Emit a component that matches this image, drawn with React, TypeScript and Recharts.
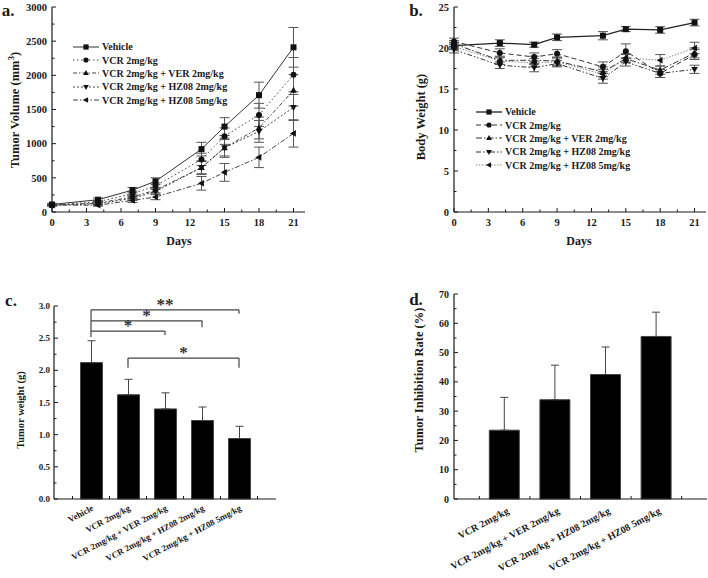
import React from 'react';
import { LineChart, Line, BarChart, Bar, XAxis, YAxis, ErrorBar, Legend, ReferenceLine, ReferenceDot } from 'recharts';

const FONT = "'Liberation Serif', 'Times New Roman', Times, serif";
const INK = '#1a1a1a';

// ---------- data ----------
const days = [0, 4, 7, 9, 13, 15, 18, 21];
const seriesLabels = [
  'Vehicle',
  'VCR 2mg/kg',
  'VCR 2mg/kg + VER 2mg/kg',
  'VCR 2mg/kg + HZ08 2mg/kg',
  'VCR 2mg/kg + HZ08 5mg/kg',
];

// panel a: tumor volume (mm3)
const volVehicle = [110, 180, 320, 450, 920, 1250, 1710, 2410];
const volVCR = [100, 150, 270, 380, 770, 1110, 1420, 2010];
const volVER = [100, 130, 220, 320, 650, 940, 1230, 1780];
const volHZ2 = [100, 120, 200, 300, 650, 940, 1180, 1530];
const volHZ5 = [100, 100, 170, 220, 420, 580, 800, 1150];
const volVehicleErr = [15, 25, 40, 50, 100, 130, 190, 290];
const volVCRErr = [10, 20, 35, 45, 90, 120, 170, 250];
const volVERErr = [10, 20, 30, 40, 90, 120, 160, 230];
const volHZ2Err = [10, 20, 30, 40, 100, 140, 160, 190];
const volHZ5Err = [10, 15, 30, 40, 100, 130, 150, 200];

// panel b: body weight (g)
const bwVehicle = [20.3, 20.6, 20.4, 21.3, 21.5, 22.3, 22.2, 23.1];
const bwVCR = [20.8, 19.4, 18.9, 19.3, 17.7, 19.6, 16.9, 19.2];
const bwVER = [20.5, 18.5, 18.5, 18.4, 17.1, 18.7, 17.3, 19.4];
const bwHZ2 = [19.8, 17.9, 17.6, 18.1, 16.3, 18.3, 16.9, 17.4];
const bwHZ5 = [20.2, 18.4, 18.2, 18.3, 16.8, 18.8, 18.5, 20.0];
const bwVehicleErr = [0.4, 0.4, 0.3, 0.4, 0.5, 0.3, 0.4, 0.4];
const bwVCRErr = [0.4, 0.5, 0.5, 0.5, 0.6, 0.9, 0.5, 0.6];
const bwVERErr = [0.4, 0.5, 0.5, 0.5, 0.6, 0.5, 0.5, 0.6];
const bwHZ2Err = [0.4, 0.4, 0.5, 0.4, 0.6, 0.5, 0.5, 0.5];
const bwHZ5Err = [0.4, 0.4, 0.5, 0.5, 0.6, 0.5, 0.7, 0.7];

// panel c: tumor weight (g)
const groupsC = seriesLabels;
const weightC = [2.12, 1.62, 1.4, 1.22, 0.94];
const weightErrC = [0.34, 0.24, 0.25, 0.21, 0.19];

// panel d: tumor inhibition rate (%)
const groupsD = seriesLabels.slice(1);
const rateD = [23.5, 33.9, 42.5, 55.5];
const rateErrD = [11.2, 11.8, 9.4, 8.3];

// significance brackets (panel c)
const bracketFrom = [1, 1, 1, 2];
const bracketTo = [3, 4, 5, 5];
const bracketY = [2.61, 2.77, 2.94, 2.19];
const bracketDrop = [2.55, 2.67, 2.88, 2.04];
const bracketMark = ['*', '*', '**', '*'];
const sharedLeftBottom = 2.52;

// ticks
const dayTicks = [0, 1.5, 3, 4.5, 6, 7.5, 9, 10.5, 12, 13.5, 15, 16.5, 18, 19.5, 21];
const volTicks = Array.from({ length: 13 }, (_, i) => i * 250);
const bwTicks = Array.from({ length: 11 }, (_, i) => i * 2.5);
const weightTicks = Array.from({ length: 13 }, (_, i) => i * 0.25);
const rateTicks = Array.from({ length: 15 }, (_, i) => i * 5);
const posTicksC = [0.5, 1, 1.5, 2, 2.5, 3, 3.5, 4, 4.5, 5, 5.5];
const posTicksD = [0.5, 1, 1.5, 2, 2.5, 3, 3.5, 4, 4.5];

// ---------- rows ----------
const volSeries = [volVehicle, volVCR, volVER, volHZ2, volHZ5];
const volErrs = [volVehicleErr, volVCRErr, volVERErr, volHZ2Err, volHZ5Err];
const bwSeries = [bwVehicle, bwVCR, bwVER, bwHZ2, bwHZ5];
const bwErrs = [bwVehicleErr, bwVCRErr, bwVERErr, bwHZ2Err, bwHZ5Err];

const buildRows = (series: number[][], errs: number[][]) =>
  days.map((d, i) => {
    const r: any = { day: d };
    series.forEach((s, k) => {
      r['s' + k] = s[i];
      r['e' + k] = errs[k][i];
    });
    return r;
  });
const volumeRows = buildRows(volSeries, volErrs);
const weightRowsB = buildRows(bwSeries, bwErrs);
const weightRowsC = groupsC.map((g, i) => ({ pos: i + 1, name: g, v: weightC[i], err: [0, weightErrC[i]] }));
const rateRowsD = groupsD.map((g, i) => ({ pos: i + 1, name: g, v: rateD[i], err: [0, rateErrD[i]] }));

// ---------- styles ----------
type Sty = { dash?: string; shape: string; color: string; width: number };
const stylesA: Sty[] = [
  { shape: 'square', color: '#333', width: 1 },
  { dash: '1.5 2.5', shape: 'circle', color: '#444', width: 1 },
  { dash: '4 2 1.5 2', shape: 'up', color: '#444', width: 1 },
  { dash: '2 2', shape: 'down', color: '#444', width: 1 },
  { dash: '5 2 1.5 2', shape: 'left', color: '#444', width: 1 },
];
const stylesB: Sty[] = [
  { shape: 'square', color: '#222', width: 1.3 },
  { dash: '5 3', shape: 'circle', color: '#333', width: 1 },
  { dash: '6 2 1.5 2', shape: 'up', color: '#333', width: 1 },
  { dash: '5 2 1.5 2 1.5 2', shape: 'down', color: '#333', width: 1 },
  { dash: '1.5 1.5', shape: 'left', color: '#888', width: 1 },
];

function Marker({ shape, cx, cy, s = 3 }: { shape: string; cx: number; cy: number; s?: number }) {
  const f = '#111';
  switch (shape) {
    case 'square':
      return <rect x={cx - s} y={cy - s} width={2 * s} height={2 * s} fill={f} />;
    case 'circle':
      return <circle cx={cx} cy={cy} r={s} fill={f} />;
    case 'up':
      return <polygon points={`${cx},${cy - s * 1.2} ${cx - s * 1.1},${cy + s * 0.8} ${cx + s * 1.1},${cy + s * 0.8}`} fill={f} />;
    case 'down':
      return <polygon points={`${cx},${cy + s * 1.2} ${cx - s * 1.1},${cy - s * 0.8} ${cx + s * 1.1},${cy - s * 0.8}`} fill={f} />;
    default:
      return <polygon points={`${cx - s * 1.2},${cy} ${cx + s * 0.8},${cy - s * 1.1} ${cx + s * 0.8},${cy + s * 1.1}`} fill={f} />;
  }
}

function LegendBox({ styles }: { styles: Sty[] }) {
  return (
    <div style={{ fontFamily: FONT, fontWeight: 'bold', fontSize: 10, color: INK }}>
      {seriesLabels.map((name, i) => (
        <div key={name} style={{ display: 'flex', alignItems: 'center', height: 13.4, whiteSpace: 'nowrap' }}>
          <svg width={26} height={10} style={{ marginRight: 3 }}>
            <line x1={0} x2={26} y1={5} y2={5} stroke={styles[i].color} strokeWidth={styles[i].width} strokeDasharray={styles[i].dash} />
            <Marker shape={styles[i].shape} cx={13} cy={5} s={2.6} />
          </svg>
          <span>{name}</span>
        </div>
      ))}
    </div>
  );
}

// ---------- ticks ----------
const isMult = (v: number, step: number) => Math.abs(v / step - Math.round(v / step)) < 1e-6;

const makeXTick = (step: number, fs: number) => (props: any) => {
  const { x, y, payload } = props;
  const v = payload.value;
  const major = isMult(v, step);
  return (
    <g>
      <line x1={x} x2={x} y1={y} y2={y - (major ? 4 : 2.5)} stroke={INK} strokeWidth={1} />
      {major && (
        <text x={x} y={y + 14} textAnchor="middle" fontSize={fs} fontWeight="bold" fill={INK}>
          {v}
        </text>
      )}
    </g>
  );
};

const makeYTick = (step: number, fs: number, fmt: (v: number) => string, gap: number) => (props: any) => {
  const { x, y, payload } = props;
  const v = payload.value;
  const major = isMult(v, step);
  return (
    <g>
      <line x1={x} x2={x + (major ? 4 : 2.5)} y1={y} y2={y} stroke={INK} strokeWidth={1} />
      {major && (
        <text x={x - gap} y={y} dy="0.35em" textAnchor="end" fontSize={fs} fontWeight="bold" fill={INK}>
          {fmt(v)}
        </text>
      )}
    </g>
  );
};

const makeCatTick = (names: string[], fs: number, dx: number, dy: number, angle: number) => (props: any) => {
  const { x, y, payload } = props;
  const v = payload.value;
  if (Number.isInteger(v)) {
    const ax = x + dx;
    const ay = y + dy;
    return (
      <text x={ax} y={ay} textAnchor="end" fontSize={fs} fontWeight="bold" fill={INK} transform={`rotate(${angle} ${ax} ${ay})`}>
        {names[v - 1]}
      </text>
    );
  }
  return <line x1={x} x2={x} y1={y} y2={y - 3} stroke={INK} strokeWidth={1} />;
};

function Title({ x, y, size, rotate = 0, children }: any) {
  return (
    <div
      style={{
        position: 'absolute',
        left: x,
        top: y,
        transform: `translate(-50%, -50%) rotate(${rotate}deg)`,
        fontSize: size,
        fontWeight: 'bold',
        whiteSpace: 'nowrap',
        lineHeight: 1,
        color: INK,
      }}
    >
      {children}
    </div>
  );
}

const axisLine = { stroke: INK, strokeWidth: 1.2 };

function LinePanel({ rows, styles, yDomain, yTicks, yStep, legendLeft, legendTop, margin }: any) {
  return (
    <LineChart width={354} height={260} data={rows} margin={margin}>
      <XAxis
        type="number"
        dataKey="day"
        domain={[0, 22]}
        ticks={dayTicks}
        interval={0}
        tickSize={0}
        tickMargin={0}
        tickLine={false}
        axisLine={axisLine}
        height={40}
        tick={makeXTick(3, 10.5)}
      />
      <YAxis
        type="number"
        domain={yDomain}
        ticks={yTicks}
        interval={0}
        tickSize={0}
        tickMargin={0}
        tickLine={false}
        axisLine={axisLine}
        width={52}
        tick={makeYTick(yStep, 10.5, (v) => String(v), 5)}
      />
      <Legend
        layout="vertical"
        align="center"
        verticalAlign="middle"
        wrapperStyle={{ left: legendLeft, top: legendTop, width: 'auto' }}
        content={() => <LegendBox styles={styles} />}
      />
      {styles.map((s: Sty, k: number) => (
        <Line
          key={k}
          type="linear"
          dataKey={'s' + k}
          name={seriesLabels[k]}
          stroke={s.color}
          strokeWidth={s.width}
          strokeDasharray={s.dash}
          isAnimationActive={false}
          activeDot={false}
          dot={(p: any) => <Marker key={'m' + k + '-' + p.index} shape={s.shape} cx={p.cx} cy={p.cy} />}
        >
          <ErrorBar dataKey={'e' + k} width={5} stroke="#555" strokeWidth={1} direction="y" />
        </Line>
      ))}
    </LineChart>
  );
}

export default function App() {
  return (
    <div
      style={{
        position: 'absolute',
        left: 0,
        top: 0,
        width: 708,
        height: 578,
        background: '#fff',
        fontFamily: FONT,
        color: INK,
        overflow: 'hidden',
      }}
    >
      {/* panel a */}
      <div style={{ position: 'absolute', left: 0, top: 0 }}>
        <LinePanel
          rows={volumeRows}
          styles={stylesA}
          yDomain={[0, 3000]}
          yTicks={volTicks}
          yStep={500}
          legendLeft={73}
          legendTop={40}
          margin={{ top: 7, right: 49, bottom: 8, left: 0 }}
        />
      </div>
      {/* panel b */}
      <div style={{ position: 'absolute', left: 354, top: 0 }}>
        <LinePanel
          rows={weightRowsB}
          styles={stylesB}
          yDomain={[0, 25]}
          yTicks={bwTicks}
          yStep={5}
          legendLeft={122}
          legendTop={105}
          margin={{ top: 7, right: 2, bottom: 8, left: 48 }}
        />
      </div>
      {/* panel c */}
      <div style={{ position: 'absolute', left: 0, top: 270 }}>
        <BarChart width={354} height={308} data={weightRowsC} margin={{ top: 36, right: 78, bottom: 9, left: 0 }}>
          <XAxis
            type="number"
            dataKey="pos"
            domain={[0, 6]}
            ticks={posTicksC}
            interval={0}
            tickSize={0}
            tickMargin={0}
            tickLine={false}
            axisLine={axisLine}
            height={70}
            tick={makeCatTick(groupsC, 8.8, 3, 11, -28)}
          />
          <YAxis
            type="number"
            domain={[0, 3]}
            ticks={weightTicks}
            interval={0}
            tickSize={0}
            tickMargin={0}
            tickLine={false}
            axisLine={axisLine}
            width={54}
            tick={makeYTick(0.5, 9, (v) => v.toFixed(1), 4)}
          />
          <Bar dataKey="v" fill="#000" stroke="#444" strokeWidth={1} barSize={22} isAnimationActive={false}>
            <ErrorBar dataKey="err" width={4} stroke="#444" strokeWidth={1} direction="y" />
          </Bar>
          <ReferenceLine
            segment={[
              { x: bracketFrom[0], y: sharedLeftBottom },
              { x: bracketFrom[0], y: bracketY[2] },
            ]}
            stroke="#444"
            strokeWidth={1.2}
          />
          {bracketY.map((by, i) => (
            <ReferenceLine
              key={'h' + i}
              segment={[
                { x: bracketFrom[i], y: by },
                { x: bracketTo[i], y: by },
              ]}
              stroke="#444"
              strokeWidth={1.2}
            />
          ))}
          {bracketY.map((by, i) => (
            <ReferenceLine
              key={'r' + i}
              segment={[
                { x: bracketTo[i], y: by },
                { x: bracketTo[i], y: bracketDrop[i] },
              ]}
              stroke="#444"
              strokeWidth={1.2}
            />
          ))}
          <ReferenceLine
            segment={[
              { x: bracketFrom[3], y: bracketY[3] },
              { x: bracketFrom[3], y: bracketDrop[3] },
            ]}
            stroke="#444"
            strokeWidth={1.2}
          />
          {bracketY.map((by, i) => (
            <ReferenceDot
              key={'s' + i}
              x={(bracketFrom[i] + bracketTo[i]) / 2}
              y={by}
              r={0}
              fill="none"
              stroke="none"
              label={{ value: bracketMark[i], position: 'top', offset: 0, fontSize: 17, fontWeight: 'bold', fill: '#333' }}
            />
          ))}
        </BarChart>
      </div>
      {/* panel d */}
      <div style={{ position: 'absolute', left: 354, top: 270 }}>
        <BarChart width={354} height={308} data={rateRowsD} margin={{ top: 24, right: 1, bottom: 9, left: 46 }}>
          <XAxis
            type="number"
            dataKey="pos"
            domain={[0, 5]}
            ticks={posTicksD}
            interval={0}
            tickSize={0}
            tickMargin={0}
            tickLine={false}
            axisLine={axisLine}
            height={70}
            tick={makeCatTick(groupsD, 10, 5, 14, -28)}
          />
          <YAxis
            type="number"
            domain={[0, 70]}
            ticks={rateTicks}
            interval={0}
            tickSize={0}
            tickMargin={0}
            tickLine={false}
            axisLine={axisLine}
            width={54}
            tick={makeYTick(10, 10, (v) => String(v), 5)}
          />
          <Bar dataKey="v" fill="#000" stroke="#444" strokeWidth={1} barSize={30} isAnimationActive={false}>
            <ErrorBar dataKey="err" width={4} stroke="#444" strokeWidth={1} direction="y" />
          </Bar>
        </BarChart>
      </div>

      {/* titles */}
      <Title x={8} y={9.5} size={17}>a.</Title>
      <Title x={416} y={9.5} size={17}>b.</Title>
      <Title x={11} y={300} size={17}>c.</Title>
      <Title x={416} y={299} size={17}>d.</Title>

      <Title x={14} y={110} size={12.5} rotate={-90}>
        Tumor Volume (mm<sup style={{ fontSize: 9 }}>3</sup>)
      </Title>
      <Title x={179} y={241} size={12}>Days</Title>
      <Title x={421} y={117} size={12.5} rotate={-90}>Body Weight (g)</Title>
      <Title x={579} y={241} size={12}>Days</Title>
      <Title x={21} y={410} size={10.5} rotate={-90}>Tumor weight (g)</Title>
      <Title x={419} y={380} size={12.5} rotate={-90}>Tumor Inhibition Rate (%)</Title>
    </div>
  );
}
